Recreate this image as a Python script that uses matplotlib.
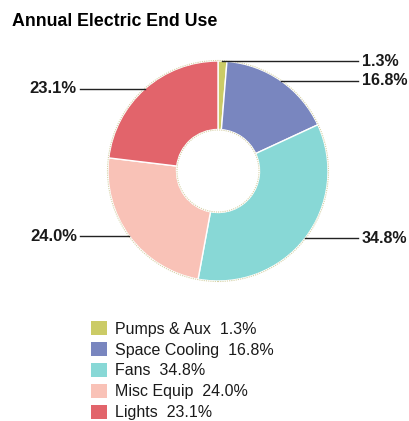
import numpy as np
import matplotlib
matplotlib.use("Agg")
import matplotlib.pyplot as plt
from matplotlib.patches import Circle

plt.rcParams['font.family'] = ['Liberation Sans', 'DejaVu Sans']

title = "Annual Electric End Use"
categories = ["Pumps & Aux", "Space Cooling", "Fans", "Misc Equip", "Lights"]
values = [1.3, 16.8, 34.8, 24.0, 23.1]
colors = ["#cbcb66", "#7986bf", "#88d8d6", "#f9c2b7", "#e2646b"]

W, H = 410, 421
fig = plt.figure(figsize=(W / 100, H / 100), dpi=100)
ax = fig.add_axes([0, 0, 1, 1])

cx, cy = 218, H - 171
R, r_in = 110, 41.5

wedges, _ = ax.pie(values, colors=colors, startangle=90, counterclock=False,
                   center=(cx, cy), radius=R, frame=True,
                   wedgeprops=dict(width=R - r_in, edgecolor='white', linewidth=1.0))
ax.set_xlim(0, W)
ax.set_ylim(0, H)
ax.set_aspect('equal')
ax.axis('off')

# dotted rims around the ring
for rad in (R + 0.5, r_in - 0.5):
    ax.add_patch(Circle((cx, cy), rad, fill=False, edgecolor='#d6d2a8',
                        linewidth=0.8, linestyle=(0, (1, 1))))

# leader lines and percentage labels
right_end, left_end = 358, 80
for w, v in zip(wedges, values):
    ang = np.deg2rad((w.theta1 + w.theta2) / 2)
    px = cx + R * np.cos(ang)
    py = cy + R * np.sin(ang)
    if px >= cx:
        ax.plot([px, right_end], [py, py], color='#222222', lw=1.0)
        ax.text(right_end + 4, py, f"{v:.1f}%", ha='left', va='center',
                fontsize=11.5, fontweight='bold', color='#1a1a1a')
    else:
        ax.plot([left_end, px], [py, py], color='#222222', lw=1.0)
        ax.text(left_end - 3, py, f"{v:.1f}%", ha='right', va='center',
                fontsize=12, fontweight='bold', color='#1a1a1a')

fig.text(12 / W, 1 - 22 / H, title, ha='left', va='center',
         fontsize=12.8, fontweight='bold', color='black')

labels = [f"{c}  {v:.1f}%" for c, v in zip(categories, values)]
leg = fig.legend(wedges, labels, loc='upper left',
                 bbox_to_anchor=(91 / W, 1 - 321 / H),
                 frameon=False, fontsize=11.5, handlelength=1.0,
                 handleheight=1.0, handletextpad=0.5, labelspacing=0.33,
                 borderaxespad=0, borderpad=0)
for h in leg.legend_handles:
    h.set_edgecolor('none')
for t in leg.get_texts():
    t.set_color('#1a1a1a')

fig.savefig("out.png", dpi=100, facecolor='white')
